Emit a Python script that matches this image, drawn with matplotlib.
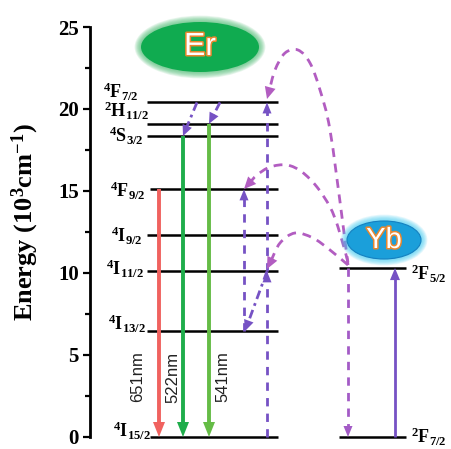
import matplotlib
matplotlib.use('Agg')
import matplotlib.pyplot as plt
import matplotlib.patheffects as pe
from matplotlib.patches import Ellipse, PathPatch
from matplotlib.path import Path
from matplotlib.ticker import MultipleLocator
import numpy as np

plt.rcParams['font.family'] = ['Liberation Serif', 'DejaVu Serif']
plt.rcParams['mathtext.fontset'] = 'custom'
plt.rcParams['mathtext.rm'] = 'Liberation Serif:bold'
plt.rcParams['mathtext.it'] = 'Liberation Serif:bold'
plt.rcParams['mathtext.bf'] = 'Liberation Serif:bold'
plt.rcParams['mathtext.default'] = 'rm'

# ---------------- data ----------------
er_levels = ['4I15/2', '4I13/2', '4I11/2', '4I9/2', '4F9/2', '4S3/2', '2H11/2', '4F7/2']
er_energy = [0.0, 6.46, 10.1, 12.3, 15.1, 18.35, 19.1, 20.4]          # 10^3 cm^-1
er_labels = [r'$^{4}$I$_{15/2}$', r'$^{4}$I$_{13/2}$', r'$^{4}$I$_{11/2}$', r'$^{4}$I$_{9/2}$',
             r'$^{4}$F$_{9/2}$', r'$^{4}$S$_{3/2}$', r'$^{2}$H$_{11/2}$', r'$^{4}$F$_{7/2}$']
yb_levels = ['2F7/2', '2F5/2']
yb_energy = [0.0, 10.3]
yb_labels = [r'$^{2}$F$_{7/2}$', r'$^{2}$F$_{5/2}$']
emission_from = ['4F9/2', '4S3/2', '2H11/2']
emission_nm = ['651nm', '522nm', '541nm']
yticks = [0, 5, 10, 15, 20, 25]
ylabel = r'Energy (10$^{3}$cm$^{-1}$)'

E = dict(zip(er_levels, er_energy))
Y = dict(zip(yb_levels, yb_energy))

# ---------------- layout / style ----------------
W, H = 452, 449
fig = plt.figure(figsize=(W / 100, H / 100), dpi=100)
ax_left_px, ax_top_px, ax_bot_px = 90, 27, 437
ax = fig.add_axes([ax_left_px / W, (H - ax_bot_px) / H, (W - ax_left_px) / W,
                   (ax_bot_px - ax_top_px) / H])
ax.set_xlim(0, W - ax_left_px)
ax.set_ylim(0, 25)
for s in ['top', 'right', 'bottom']:
    ax.spines[s].set_visible(False)
ax.spines['left'].set_linewidth(2.0)
ax.set_xticks([])
ax.set_yticks(yticks)
ax.yaxis.set_minor_locator(MultipleLocator(2.5))
ax.tick_params(axis='y', which='major', direction='out', length=5, width=1.6,
               labelsize=15, pad=3)
ax.tick_params(axis='y', which='minor', direction='out', length=3.5, width=1.6)
for t in ax.get_yticklabels():
    t.set_fontweight('bold')

fig.text(25 / W, 1 - 222 / H, ylabel, rotation=90, ha='center', va='center',
         fontsize=19, fontweight='bold')

RED = '#F0625F'
GREEN1 = '#1FAD4B'
GREEN2 = '#65BC46'
PURPLE = '#7652C4'
MAGENTA = '#B25DC1'


def px(xp, yp):
    """pixel position (layout) -> data coords"""
    inv = ax.transData.inverted()
    return inv.transform((xp, H - yp))


def todisp(p):
    return ax.transData.transform(p)


def head(tip, direction, color, hl=13, hw=5.5, z=5):
    d_tip = todisp(tip)
    u = np.asarray(direction, float)
    u = u / np.hypot(*u)
    d_tail = d_tip - u * hl
    tail = ax.transData.inverted().transform(d_tail)
    ax.annotate('', xy=tip, xytext=tail, annotation_clip=False,
                arrowprops=dict(arrowstyle=f'-|>,head_length={hl * 0.72 / 10},head_width={hw * 0.72 / 10}',
                                mutation_scale=10, color=color, lw=0, shrinkA=0, shrinkB=0),
                zorder=z)


def arrow(p0, p1, color, lw=2.2, ls='-', hl=13, hw=5.5, z=4):
    d0, d1 = todisp(p0), todisp(p1)
    u = (d1 - d0) / np.hypot(*(d1 - d0))
    end = ax.transData.inverted().transform(d1 - u * hl * 0.8)
    ax.plot([p0[0], end[0]], [p0[1], end[1]], color=color, lw=lw, ls=ls,
            solid_capstyle='butt', dash_capstyle='butt', clip_on=False, zorder=z)
    head(p1, u, color, hl, hw, z + 1)


def curve(points_px, color, lw=2.0, ls=(0, (3.2, 2.4)), hl=12, hw=5.5, z=3):
    P = np.array(points_px, float)
    D = np.array([todisp(px(*p)) for p in P])
    u = D[-1] - D[-2]
    u = u / np.hypot(*u)
    tip_disp = D[-1].copy()
    D[-1] = D[-1] - u * hl * 0.7
    n = len(D)
    ext = np.vstack([D[0], D, D[-1]])
    verts = [D[0]]
    codes = [Path.MOVETO]
    for i in range(n - 1):
        p_1, p0, p1, p2 = ext[i], ext[i + 1], ext[i + 2], ext[i + 3]
        c1 = p0 + (p1 - p_1) / 6
        c2 = p1 - (p2 - p0) / 6
        verts += [c1, c2, p1]
        codes += [Path.CURVE4] * 3
    verts = ax.transData.inverted().transform(np.array(verts))
    patch = PathPatch(Path(verts, codes), fill=False, edgecolor=color, lw=lw,
                      ls=ls, clip_on=False, zorder=z, capstyle='butt')
    ax.add_patch(patch)
    tip = ax.transData.inverted().transform(tip_disp)
    head(tip, u, color, hl, hw, z + 2)


# ---------------- energy levels ----------------
er_x0 = {'4I15/2': 60, '4F9/2': 60}
for name, e in zip(er_levels, er_energy):
    x0 = er_x0.get(name, 57)
    ax.hlines(e, x0, 188, color='black', lw=1.8, clip_on=False, zorder=2)

lab_pos = {  # right edge px, baseline px
    '4F7/2': (139, 98), '2H11/2': (149, 117), '4S3/2': (144, 142), '4F9/2': (146, 197),
    '4I9/2': (143, 242), '4I11/2': (144, 275), '4I13/2': (146, 330), '4I15/2': (151, 437),
}
for name, lab in zip(er_levels, er_labels):
    xp, yp = lab_pos[name]
    p = px(xp, yp)
    ax.text(p[0], p[1], lab, ha='right', va='baseline', fontsize=13, fontweight='bold',
            clip_on=False, zorder=6)

for name, e in zip(yb_levels, yb_energy):
    ax.hlines(e, 249, 316, color='black', lw=1.8, clip_on=False, zorder=2)
yb_lab_pos = {'2F5/2': (411, 280), '2F7/2': (411, 443)}
for name, lab in zip(yb_levels, yb_labels):
    xp, yp = yb_lab_pos[name]
    p = px(xp, yp)
    ax.text(p[0], p[1], lab, ha='left', va='baseline', fontsize=13, fontweight='bold',
            clip_on=False, zorder=6)

# ---------------- emissions ----------------
em_x = [69, 93, 119]
em_col = [RED, GREEN1, GREEN2]
lab_x = [48, 83, 133]
for lvl, nm, x, c, lx in zip(emission_from, emission_nm, em_x, em_col, lab_x):
    arrow((x, E[lvl]), (x, E['4I15/2']), c, lw=2.8, hl=15, hw=6, z=4)
    ax.text(lx, px(0, 377)[1], nm, rotation=90, ha='center', va='center',
            fontsize=12, family='Liberation Sans', color='#222222')

# non-radiative relaxations (dash-dot)
dd = (0, (3.2, 1.6, 1.0, 1.6))
arrow((107, E['4F7/2']), (93, E['4S3/2']), PURPLE, lw=2.0, ls=dd, hl=11, hw=5)
arrow((130, E['4F7/2']), (119, E['2H11/2']), PURPLE, lw=2.0, ls=dd, hl=11, hw=5)
arrow((177, E['4I11/2']), (155, E['4I13/2']), PURPLE, lw=2.0, ls=dd, hl=11, hw=5)

# excitation (dashed)
dsh = (0, (3.0, 2.6))
arrow((177, E['4I15/2']), (177, E['4I11/2']), PURPLE, lw=2.0, ls=dsh, hl=11, hw=4.5)
arrow((177, E['4I11/2']), (177, E['4F7/2']), PURPLE, lw=2.0, ls=dsh, hl=11, hw=4.5)
arrow((154, E['4I13/2']), (154, E['4F9/2']), PURPLE, lw=2.0, ls=dsh, hl=11, hw=4.5)

# Yb absorption / relaxation
arrow((305, Y['2F7/2']), (305, Y['2F5/2']), PURPLE, lw=2.0, hl=12, hw=5)
arrow((258, Y['2F5/2']), (258, Y['2F7/2']), '#A35BC6', lw=2.0, ls=dsh, hl=11, hw=4.5)

# energy transfer arcs (pixel layout waypoints)
curve([(348, 265), (342, 217), (330, 130), (320, 90), (310, 63), (298, 50), (285, 53),
       (275, 70), (267, 99)], MAGENTA)
curve([(348, 262), (338, 227), (330, 207), (317, 187), (302, 172), (287, 165), (270, 167),
       (257, 175), (244, 189)], MAGENTA)
curve([(348, 265), (330, 250), (313, 238), (295, 233), (280, 243), (267, 269)], MAGENTA)


# ---------------- badges ----------------
def badge(cx, cy, w, h, face, glow, text, fs, edge='none'):
    c = px(cx, cy)
    for i in range(8, 0, -1):
        g = i * 0.8
        ax.add_patch(Ellipse(c, w + 2 * g, (h + 2 * g) / 16.4, facecolor=glow,
                             edgecolor='none', alpha=0.13, clip_on=False, zorder=7))
    ax.add_patch(Ellipse(c, w, h / 16.4, facecolor=face, edgecolor=edge, lw=0.8,
                         clip_on=False, zorder=8))
    ax.text(c[0], c[1], text, ha='center', va='center', fontsize=fs, color='white',
            family='Liberation Sans', zorder=9, clip_on=False,
            path_effects=[pe.withStroke(linewidth=2.2, foreground='#E8872E')])


badge(200, 47, 118, 50, '#10AB50', '#4DBB72', 'Er', 23)
badge(384, 240, 74, 38, '#1B9FDA', '#45CDF2', 'Yb', 21, edge='#1580C0')

fig.savefig('out.png', dpi=100)
